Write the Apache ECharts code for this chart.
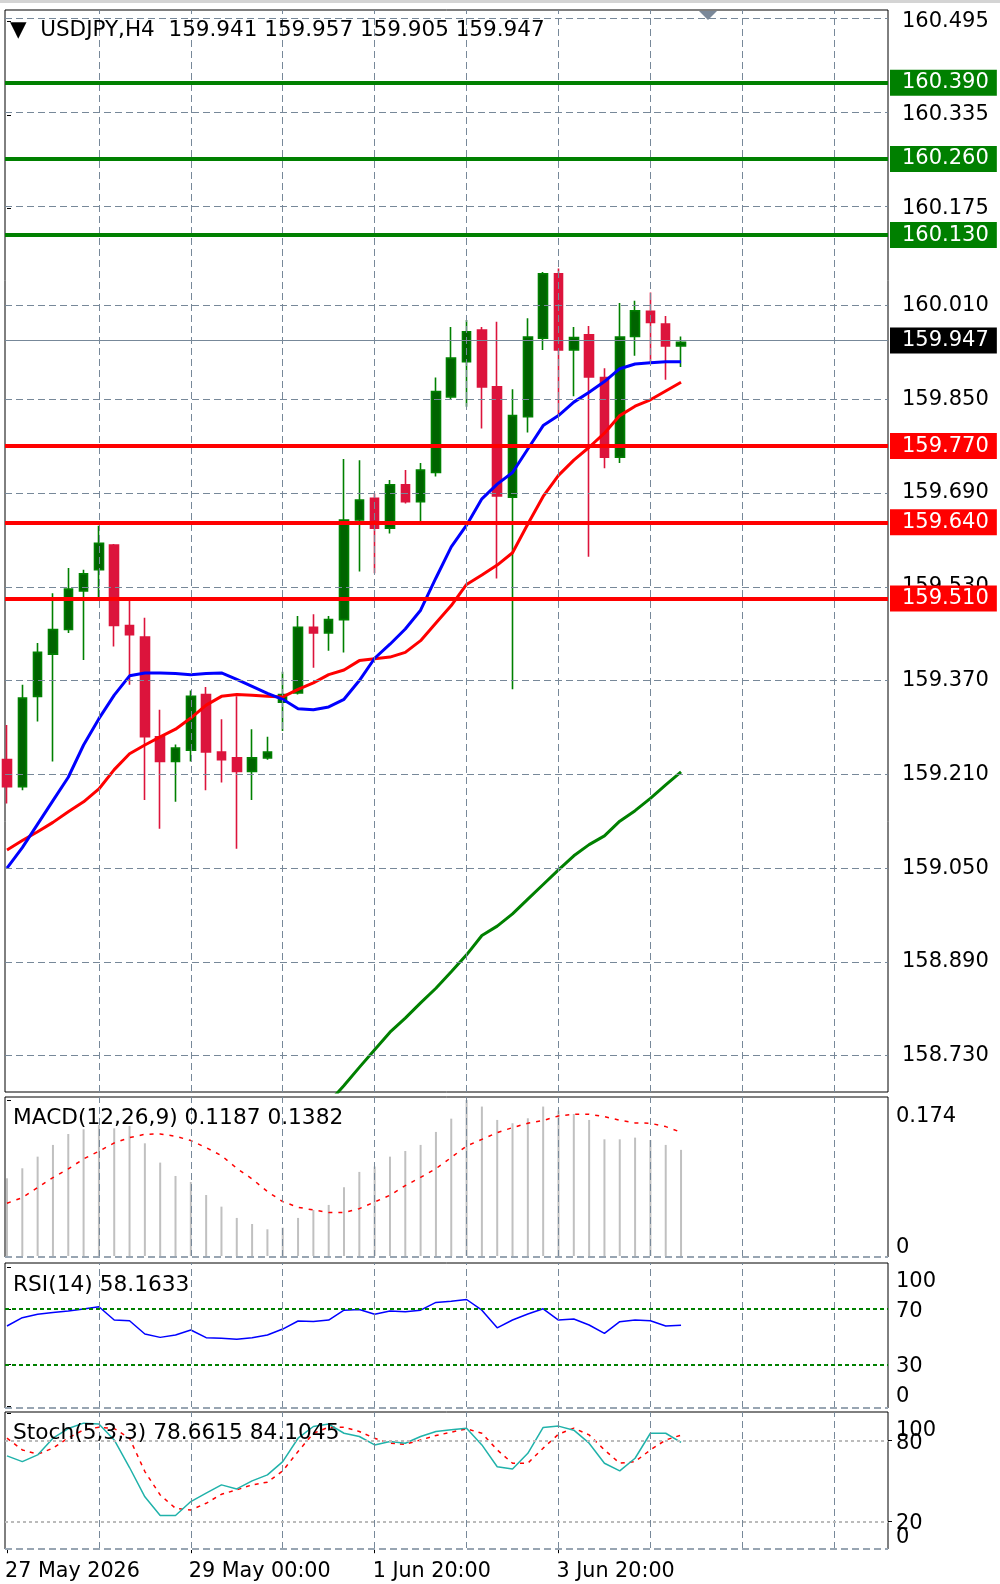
<!DOCTYPE html>
<html>
<head>
<meta charset="utf-8">
<title>USDJPY,H4</title>
<script src="https://cdn.jsdelivr.net/npm/echarts@6.0.0/dist/echarts.min.js"></script>
<style>
    html, body { margin: 0; padding: 0; background: #fff; }
    #chart { width: 1000px; height: 1584px; }
</style>
</head>
<body>
<div id="chart"></div>
<script>
// H4 bars, first one is 27 May 2026 00:00
const opens = [159.235, 159.189, 159.343, 159.415, 159.457, 159.523, 159.559, 159.601, 159.464, 159.444,
    159.274, 159.232, 159.251, 159.346, 159.248, 159.238, 159.215, 159.238, 159.333, 159.349,
    159.461, 159.451, 159.474, 159.644, 159.681, 159.630, 159.704, 159.675, 159.725, 159.854,
    159.914, 159.968, 159.871, 159.683, 159.820, 159.954, 160.064, 159.934, 159.960, 159.887,
    159.751, 159.957, 160.000, 159.978, 159.941]
const highs = [159.294, 159.363, 159.434, 159.519, 159.562, 159.559, 159.634, 159.603, 159.506, 159.477,
    159.320, 159.261, 159.353, 159.359, 159.304, 159.343, 159.287, 159.274, 159.385, 159.480,
    159.483, 159.480, 159.748, 159.746, 159.689, 159.712, 159.729, 159.741, 159.887, 159.973,
    159.985, 159.973, 159.982, 159.867, 159.988, 160.067, 160.073, 159.973, 159.975, 159.903,
    160.014, 160.018, 160.032, 159.992, 159.957]
const lows = [159.160, 159.183, 159.300, 159.232, 159.451, 159.405, 159.510, 159.428, 159.363, 159.166,
    159.117, 159.163, 159.232, 159.183, 159.196, 159.083, 159.166, 159.235, 159.284, 159.346,
    159.392, 159.421, 159.418, 159.556, 159.553, 159.621, 159.672, 159.641, 159.718, 159.849,
    159.837, 159.800, 159.544, 159.355, 159.793, 159.934, 159.820, 159.855, 159.581, 159.732,
    159.741, 159.924, 159.911, 159.883, 159.905]
const closes = [159.189, 159.340, 159.418, 159.457, 159.526, 159.552, 159.604, 159.464, 159.448, 159.274,
    159.232, 159.255, 159.343, 159.248, 159.235, 159.215, 159.238, 159.248, 159.346, 159.461,
    159.451, 159.474, 159.644, 159.678, 159.630, 159.704, 159.675, 159.729, 159.863, 159.920,
    159.965, 159.871, 159.685, 159.822, 159.956, 160.064, 159.934, 159.955, 159.888, 159.751,
    159.956, 160.001, 159.981, 159.941, 159.947]

// moving averages
const maBlue = [159.050, 159.085, 159.125, 159.165, 159.205, 159.260, 159.305, 159.345, 159.378, 159.383,
    159.383, 159.382, 159.380, 159.382, 159.383, 159.372, 159.360, 159.348, 159.338, 159.322,
    159.320, 159.325, 159.338, 159.370, 159.408, 159.432, 159.458, 159.490, 159.545, 159.598,
    159.635, 159.680, 159.705, 159.725, 159.765, 159.805, 159.822, 159.845, 159.862, 159.880,
    159.902, 159.910, 159.912, 159.914, 159.914]
const maRed = [159.081, 159.097, 159.112, 159.128, 159.146, 159.163, 159.185, 159.218, 159.245, 159.260,
    159.274, 159.287, 159.306, 159.328, 159.343, 159.346, 159.345, 159.343, 159.342, 159.355,
    159.366, 159.380, 159.388, 159.404, 159.407, 159.410, 159.418, 159.438, 159.468, 159.498,
    159.534, 159.550, 159.567, 159.588, 159.637, 159.684, 159.720, 159.746, 159.768, 159.792,
    159.822, 159.838, 159.849, 159.864, 159.879]
const maGreen = [null, null, null, null, null, null, null, null, null, null,
    null, null, null, null, null, null, null, null, null, null,
    158.620, 158.650, 158.679, 158.710, 158.740, 158.770, 158.794, 158.820, 158.845, 158.873,
    158.902, 158.935, 158.951, 158.972, 158.997, 159.022, 159.047, 159.071, 159.090, 159.105,
    159.130, 159.148, 159.169, 159.192, 159.214]

const levelsUp = [160.390, 160.260, 160.130]
const levelsDown = [159.770, 159.640, 159.510]
const priceTicks = [160.495, 160.335, 160.175, 160.010, 159.850, 159.690, 159.530, 159.370, 159.210, 159.050, 158.890, 158.730]

const macdHist = [0.0872, 0.0983, 0.1112, 0.1242, 0.1363, 0.1415, 0.1463, 0.1426, 0.1452, 0.1260,
    0.1046, 0.0898, 0.0831, 0.0687, 0.0558, 0.0433, 0.0366, 0.0307, 0.0325, 0.0433,
    0.0521, 0.0577, 0.0773, 0.0943, 0.1002, 0.1112, 0.1175, 0.1242, 0.1386, 0.1533,
    0.1740, 0.1667, 0.1519, 0.1482, 0.1537, 0.1667, 0.1622, 0.1585, 0.1519, 0.1304,
    0.1304, 0.1323, 0.1297, 0.1242, 0.1187]
const macdSignal = [0.0595, 0.0658, 0.0769, 0.0880, 0.0976, 0.1087, 0.1172, 0.1264, 0.1323, 0.1360,
    0.1364, 0.1338, 0.1290, 0.1212, 0.1124, 0.0983, 0.0865, 0.0725, 0.0614, 0.0551,
    0.0521, 0.0492, 0.0492, 0.0536, 0.0610, 0.0684, 0.0791, 0.0883, 0.0979, 0.1103,
    0.1230, 0.1304, 0.1378, 0.1434, 0.1482, 0.1512, 0.1563, 0.1582, 0.1582, 0.1556,
    0.1515, 0.1486, 0.1482, 0.1445, 0.1382]
const macdTicks = [0, 0.174]

const rsi = [57.6, 63.6, 66.0, 67.3, 68.4, 69.8, 71.5, 61.9, 61.4, 51.8,
    49.4, 51.1, 54.7, 49.2, 48.7, 48.0, 49.2, 51.1, 55.4, 61.2,
    60.9, 61.9, 69.0, 69.5, 66.0, 68.4, 67.9, 69.0, 74.6, 75.5,
    76.7, 69.0, 56.3, 61.9, 66.2, 70.0, 61.9, 62.6, 58.3, 52.3,
    60.7, 61.9, 61.4, 57.6, 58.1633]
const rsiTicks = [0, 30, 70, 100]

const stochK = [68.7, 64.4, 69.4, 81.8, 89.0, 93.0, 92.3, 80.5, 60.0, 38.2,
    24.3, 24.3, 34.7, 40.9, 47.1, 44.1, 50.1, 54.5, 64.4, 81.8,
    90.5, 92.3, 85.5, 83.1, 76.8, 79.3, 78.1, 83.1, 86.8, 88.1,
    89.3, 76.8, 60.6, 58.9, 70.6, 89.8, 90.8, 87.8, 78.1, 63.2,
    57.5, 66.9, 85.5, 85.5, 78.6615]
const stochD = [81.8, 73.1, 69.9, 74.4, 82.0, 88.0, 90.0, 89.0, 81.8, 57.0,
    39.6, 29.7, 28.4, 33.4, 40.1, 43.4, 47.1, 49.1, 57.5, 71.9,
    85.5, 90.0, 90.0, 86.8, 81.8, 78.1, 77.3, 80.5, 83.8, 86.3,
    88.8, 85.5, 73.1, 63.2, 63.2, 74.4, 84.8, 89.3, 84.3, 73.1,
    63.2, 64.4, 73.1, 80.5, 84.1045]
const stochEnds = [0, 100]
const stochLevels = [20, 80]

const xLabels = ['27 May 2026', '29 May 00:00', '1 Jun 20:00', '3 Jun 20:00']
const xLabelIdx = [0, 12, 24, 36]
const gridIdx = [6, 12, 18, 24, 30, 36, 42, 48, 54]

const font = 'DejaVu Sans'
const fs = 21
const X_MIN = -0.13
const X_MAX = 57.51
const gridDash = { color: '#778899', type: [7, 4], width: 1 }

const chart = echarts.init(document.getElementById('chart'))

function pairs(arr) {
    return arr.map((v, i) => [i, v])
}

// dashed grid + extra level lines for one pane
function paneGrid(k, extra) {
    return {
        type: 'line',
        xAxisIndex: k,
        yAxisIndex: k,
        data: [],
        z: 1,
        clip: false,
        silent: true,
        markLine: {
            silent: true,
            symbol: 'none',
            animation: false,
            label: { show: false },
            lineStyle: gridDash,
            data: gridIdx.map(i => ({ xAxis: i })).concat(extra || [])
        }
    }
}

// bottom edge of a sub pane is a dashed line in MT4
function dashedBottom(v) {
    return [
        { yAxis: v, lineStyle: { color: '#fff', type: 'solid', width: 2 } },
        { yAxis: v, lineStyle: { color: '#778899', type: [7, 4], width: 1.5 } }
    ]
}

function levelItem(v, color, lineColor, width) {
    return {
        yAxis: v,
        lineStyle: { color: lineColor || color, width: width || 4, type: 'solid' },
        label: { show: true, backgroundColor: color, formatter: v.toFixed(3) }
    }
}

// right axis labels, top one pushed down and bottom one pushed up
function sideLabels(values, shiftTop, shiftBottom, fmt) {
    const top = Math.max(...values)
    const bottom = Math.min(...values)
    const base = { fontFamily: font, fontSize: fs, color: '#000' }
    return {
        customValues: values,
        margin: 8,
        padding: [5, 0, 0, 0],
        hideOverlap: false,
        showMinLabel: true,
        showMaxLabel: true,
        fontFamily: font,
        fontSize: fs,
        color: '#000',
        formatter: v => {
            if (Math.abs(v - top) < 1e-9) return '{t|' + fmt(v) + '}'
            if (Math.abs(v - bottom) < 1e-9) return '{b|' + fmt(v) + '}'
            return fmt(v)
        },
        rich: {
            t: Object.assign({ padding: [shiftTop * 2, 0, 0, 0] }, base),
            b: Object.assign({ padding: [0, 0, shiftBottom * 2, 0] }, base)
        }
    }
}

function sideTicks(values) {
    return { show: true, customValues: values, length: 4, lineStyle: { color: '#000' } }
}

function sideAxis(grid, min, max, values, shiftTop, shiftBottom, fmt) {
    return {
        type: 'value', gridIndex: grid, position: 'right', min: min, max: max,
        axisLine: { show: false }, splitLine: { show: false },
        axisTick: sideTicks(values),
        axisLabel: sideLabels(values, shiftTop, shiftBottom, fmt)
    }
}

const titleStyle = { fontFamily: font, fontSize: 21.7, fontWeight: 'normal', color: '#000' }
const last = closes.length - 1

const grids = [
    { top: 10, height: 1082 },
    { top: 1097, height: 160 },
    { top: 1263, height: 145 },
    { top: 1412, height: 137 }
].map(g => Object.assign({
    left: 5,
    width: 883,
    show: true,
    borderColor: '#000',
    borderWidth: 1,
    backgroundColor: '#fff',
    containLabel: false,
    outerBoundsMode: 'none'
}, g))

const xAxes = [0, 1, 2, 3].map(k => ({
    type: 'value',
    gridIndex: k,
    min: X_MIN,
    max: X_MAX,
    show: k === 3,
    axisLine: { show: false },
    splitLine: { show: false },
    axisTick: k === 3 ? { show: true, customValues: xLabelIdx, length: 5, lineStyle: { color: '#000' } } : { show: false },
    axisLabel: k === 3 ? {
        customValues: xLabelIdx,
        formatter: v => xLabels[xLabelIdx.indexOf(v)],
        align: 'left',
        margin: 12,
        padding: [0, 0, 0, -2],
        hideOverlap: false,
        showMinLabel: true,
        showMaxLabel: true,
        fontFamily: font,
        fontSize: 20.7,
        color: '#000'
    } : { show: false }
}))

const yAxes = [
    {
        type: 'value', gridIndex: 0, position: 'right', min: 158.668, max: 160.514,
        axisLine: { show: false }, splitLine: { show: false },
        axisTick: sideTicks(priceTicks),
        axisLabel: {
            customValues: priceTicks, formatter: v => v.toFixed(3), margin: 14, padding: [5, 0, 0, 0],
            hideOverlap: false, showMinLabel: true, showMaxLabel: true,
            fontFamily: font, fontSize: fs, color: '#000'
        }
    },
    sideAxis(1, 0, 0.1773, macdTicks, 14, 12, v => (v === 0 ? '0' : v.toFixed(3))),
    sideAxis(2, -1.5, 103, rsiTicks, 12, 12, v => String(v)),
    sideAxis(3, -0.6, 101.3, stochEnds, 14, 13, v => String(v)),
    // second axis on the stochastic pane only carries the 80 / 20 labels
    sideAxis(3, -0.6, 101.3, stochLevels, 0, 0, v => String(v))
]

const levelLabel = {
    show: true,
    position: 'end',
    distance: 2,
    color: '#fff',
    fontFamily: font,
    fontSize: fs,
    lineHeight: 21,
    padding: [4, 8, 1, 12]
}

const series = [
    paneGrid(0, priceTicks.map(v => ({ yAxis: v }))),
    {
        type: 'candlestick',
        xAxisIndex: 0,
        yAxisIndex: 0,
        z: 3,
        barWidth: 9,
        silent: true,
        data: opens.map((o, i) => [i, o, closes[i], lows[i], highs[i]]),
        itemStyle: {
            color: '#006400',
            color0: '#DC143C',
            borderColor: '#008000',
            borderColor0: '#DC143C',
            borderWidth: 1.6
        }
    },
    { type: 'line', xAxisIndex: 0, yAxisIndex: 0, z: 4, silent: true, symbol: 'none', data: pairs(maGreen), lineStyle: { color: '#008000', width: 3 } },
    { type: 'line', xAxisIndex: 0, yAxisIndex: 0, z: 4, silent: true, symbol: 'none', data: pairs(maRed), lineStyle: { color: '#FF0000', width: 3 } },
    { type: 'line', xAxisIndex: 0, yAxisIndex: 0, z: 4, silent: true, symbol: 'none', data: pairs(maBlue), lineStyle: { color: '#0000FF', width: 3 } },
    {
        // horizontal levels and the current price line
        type: 'line',
        xAxisIndex: 0,
        yAxisIndex: 0,
        data: [],
        z: 5,
        clip: false,
        silent: true,
        markLine: {
            silent: true,
            symbol: 'none',
            animation: false,
            label: levelLabel,
            data: [levelItem(closes[last], '#000000', '#778899', 1)]
                .concat(levelsUp.map(v => levelItem(v, '#008000')))
                .concat(levelsDown.map(v => levelItem(v, '#FF0000')))
        }
    },

    // MACD
    paneGrid(1, dashedBottom(0)),
    { type: 'bar', xAxisIndex: 1, yAxisIndex: 1, z: 2, silent: true, barWidth: 2, data: pairs(macdHist), itemStyle: { color: '#C0C0C0' } },
    { type: 'line', xAxisIndex: 1, yAxisIndex: 1, z: 3, silent: true, symbol: 'none', data: pairs(macdSignal), lineStyle: { color: '#FF0000', width: 1.5, type: [4, 6] } },

    // RSI
    paneGrid(2, dashedBottom(-1.5).concat([
        { yAxis: 70, lineStyle: { color: '#008000', type: [4, 3], width: 2 } },
        { yAxis: 30, lineStyle: { color: '#008000', type: [4, 3], width: 2 } }
    ])),
    { type: 'line', xAxisIndex: 2, yAxisIndex: 2, z: 3, silent: true, symbol: 'none', data: pairs(rsi), lineStyle: { color: '#0000FF', width: 1.5 } },

    // Stochastic
    paneGrid(3, dashedBottom(-0.6).concat([
        { yAxis: 80, lineStyle: { color: '#BBBBBB', type: [3, 3], width: 2 } },
        { yAxis: 20, lineStyle: { color: '#BBBBBB', type: [3, 3], width: 2 } }
    ])),
    { type: 'line', xAxisIndex: 3, yAxisIndex: 3, z: 3, silent: true, symbol: 'none', data: pairs(stochD), lineStyle: { color: '#FF0000', width: 1.5, type: [4, 5] } },
    { type: 'line', xAxisIndex: 3, yAxisIndex: 3, z: 3, silent: true, symbol: 'none', data: pairs(stochK), lineStyle: { color: '#20B2AA', width: 1.5 } }
]

chart.setOption({
    animation: false,
    backgroundColor: '#fff',
    title: [
        {
            text: '▼  USDJPY,H4  ' + [opens[last], highs[last], lows[last], closes[last]].map(v => v.toFixed(3)).join(' '),
            left: 10, top: 19, padding: 0,
            textStyle: Object.assign({}, titleStyle, { fontSize: 21.5 })
        },
        {
            text: 'MACD(12,26,9) ' + macdHist[last].toFixed(4) + ' ' + macdSignal[last].toFixed(4),
            left: 13, top: 1107, padding: 0, textStyle: titleStyle
        },
        {
            text: 'RSI(14) ' + rsi[last].toFixed(4),
            left: 13, top: 1274, padding: 0, textStyle: titleStyle
        },
        {
            text: 'Stoch(5,3,3) ' + stochK[last].toFixed(4) + ' ' + stochD[last].toFixed(4),
            left: 13, top: 1422, padding: 0, textStyle: titleStyle
        }
    ],
    graphic: [
        { type: 'rect', silent: true, shape: { x: 0, y: 0, width: 1000, height: 3 }, style: { fill: '#d4d4d4' } },
        { type: 'polygon', silent: true, z: 10, shape: { points: [[699, 11], [717, 11], [708, 20]] }, style: { fill: '#7a8899' } }
    ],
    grid: grids,
    xAxis: xAxes,
    yAxis: yAxes,
    series: series
})
</script>
</body>
</html>
